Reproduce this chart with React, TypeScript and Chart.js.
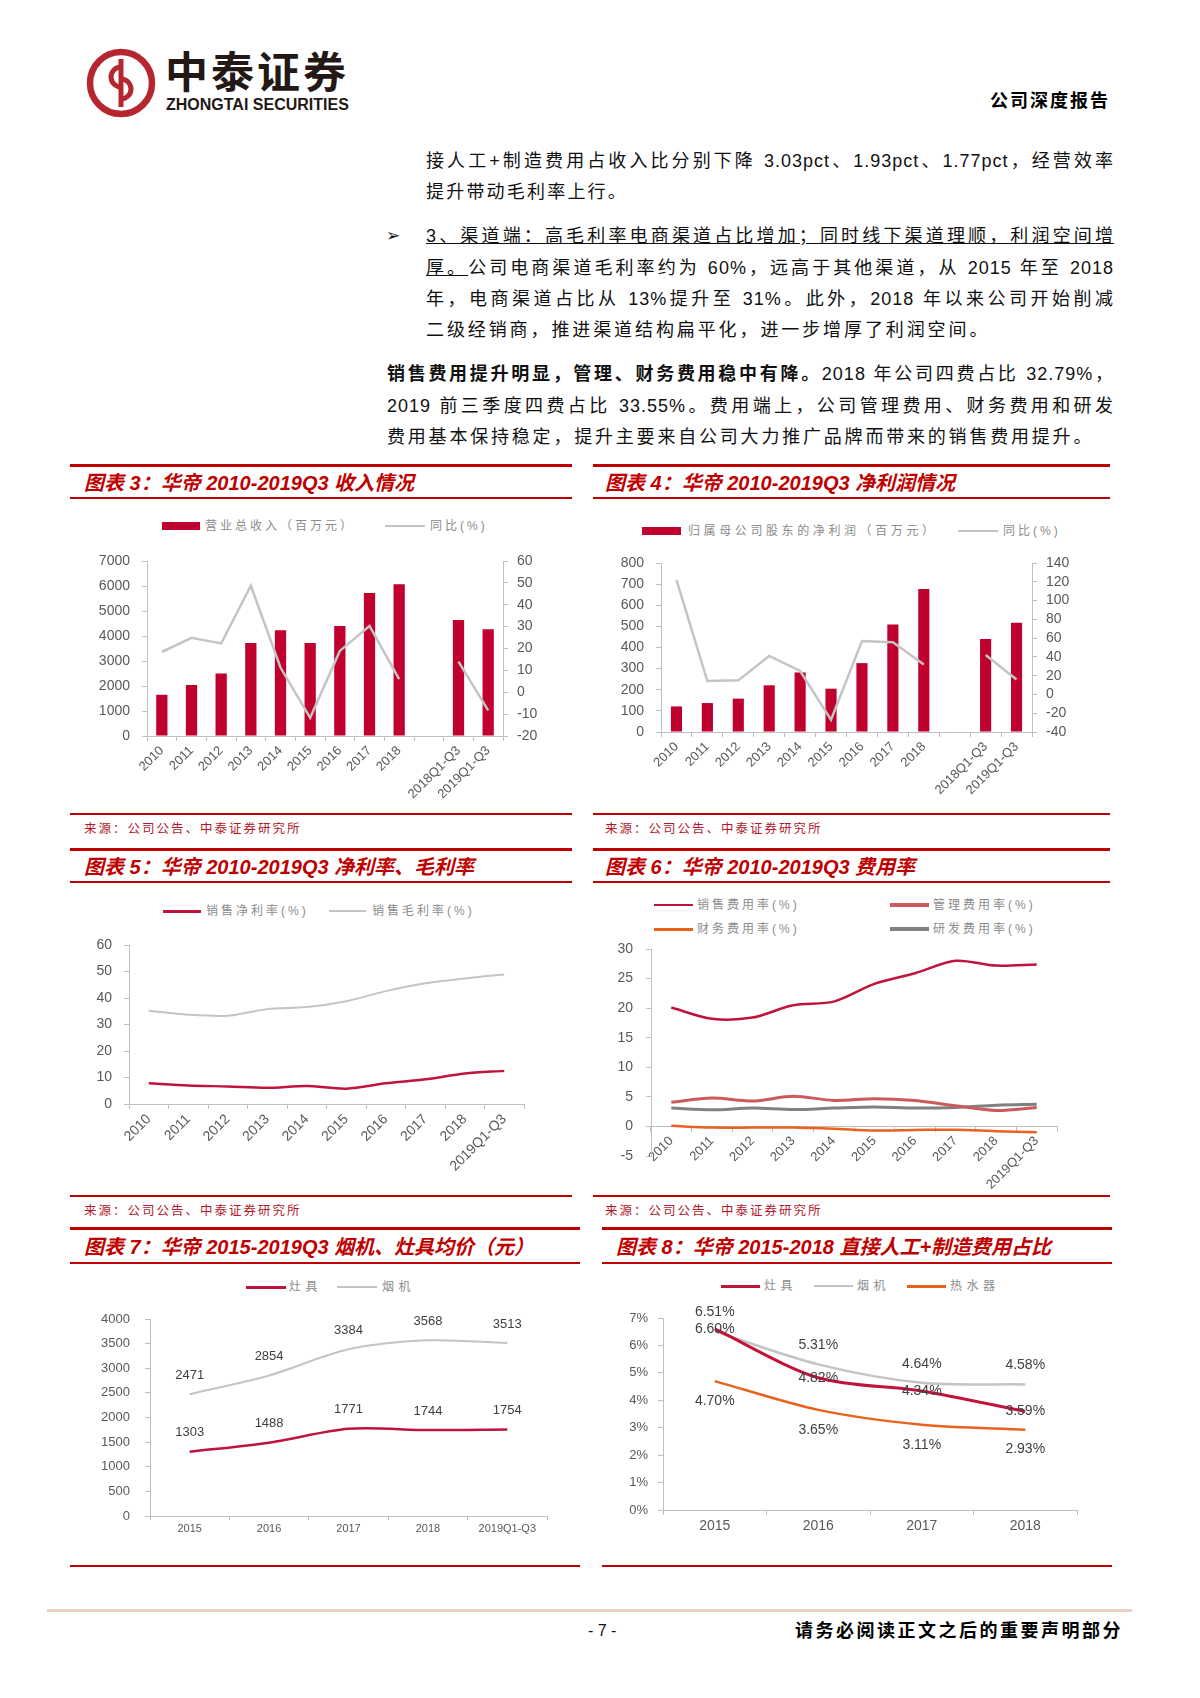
import React, { useEffect, useRef } from "react";
import { Chart, registerables } from "chart.js";

Chart.register(...registerables);

const NUM_FONT = "'Liberation Sans', Arial, sans-serif";
const CJK_FONT = "'Liberation Sans', 'Noto Sans CJK SC', sans-serif";

// ---------------- data ----------------
const revenueCategories = ["2010", "2011", "2012", "2013", "2014", "2015", "2016", "2017", "2018", "", "2018Q1-Q3", "2019Q1-Q3"];
const revenueValues = [1650, 2040, 2500, 3720, 4230, 3720, 4400, 5720, 6070, null, 4640, 4270];
const revenueYoY = [18.4, 24.9, 22.3, 48.7, 11.3, -11.7, 18.9, 30.3, 6.0, null, 14.0, -8.3];

const profitValues = [121, 137, 158, 221, 282, 205, 326, 509, 677, null, 440, 517];
const profitYoY = [122, 14.3, 15.0, 41.0, 25.0, -27.0, 57.0, 55.5, 32.0, null, 42.0, 16.0];

const marginCategories = ["2010", "2011", "2012", "2013", "2014", "2015", "2016", "2017", "2018", "2019Q1-Q3"];
const netMargin = [7.8, 7.0, 6.6, 6.1, 6.8, 5.8, 7.8, 9.3, 11.5, 12.5];
const grossMargin = [35.2, 33.7, 33.3, 35.8, 36.6, 38.8, 42.6, 45.6, 47.4, 48.9];

const sellingExpenseRate = [20.1, 18.2, 18.4, 20.5, 21.1, 24.1, 25.9, 28.0, 27.2, 27.4];
const adminExpenseRate = [4.1, 4.8, 4.3, 5.1, 4.4, 4.7, 4.4, 3.5, 2.7, 3.2];
const financeExpenseRate = [0.1, -0.2, -0.2, -0.2, -0.4, -0.7, -0.6, -0.55, -0.8, -1.0];
const rdExpenseRate = [3.1, 2.8, 3.1, 2.85, 3.1, 3.3, 3.1, 3.2, 3.6, 3.75];

const priceCategories = ["2015", "2016", "2017", "2018", "2019Q1-Q3"];
const stovePrice = [1303, 1488, 1771, 1744, 1754];
const hoodPrice = [2471, 2854, 3384, 3568, 3513];

const costCategories = ["2015", "2016", "2017", "2018"];
const stoveCostShare = [6.6, 4.82, 4.34, 3.59];
const hoodCostShare = [6.51, 5.31, 4.64, 4.58];
const heaterCostShare = [4.7, 3.65, 3.11, 2.93];

// axis ranges (tick labels)
const revenueAxis = { min: 0, max: 7000, step: 1000 };
const revenueYoYAxis = { min: -20, max: 60, step: 10 };
const profitAxis = { min: 0, max: 800, step: 100 };
const profitYoYAxis = { min: -40, max: 140, step: 20 };
const marginAxis = { min: 0, max: 60, step: 10 };
const expenseAxis = { min: -5, max: 30, step: 5 };
const priceAxis = { min: 0, max: 4000, step: 500 };
const costAxis = { min: 0, max: 7, step: 1 };

// ---------------- styles ----------------
const BAR_RED = "#c0002e";
const CRIMSON = "#c0143c";
const GRAY_LINE = "#c4c4c4";
const ADMIN_RED = "#cd5a5a";
const ORANGE = "#e8621e";
const RD_GRAY = "#808080";
const TITLE_RED = "#c00000";
const AXIS = "#bfbfbf";
const TICK_COLOR = "#595959";

const valueLabelPlugin = {
  id: "valueLabels",
  afterDatasetsDraw(chart: any) {
    const ctx = chart.ctx;
    chart.data.datasets.forEach((ds: any, i: number) => {
      const opt = ds.valueLabels;
      if (!opt) return;
      const meta = chart.getDatasetMeta(i);
      ctx.save();
      ctx.font = `${opt.size}px ${NUM_FONT}`;
      ctx.fillStyle = opt.color;
      ctx.textAlign = "center";
      ctx.textBaseline = "middle";
      meta.data.forEach((el: any, j: number) => {
        const v = ds.data[j];
        if (v === null || v === undefined) return;
        const p = el.getProps(["x", "y"], true);
        ctx.fillText(opt.format(v), p.x, p.y + opt.dy);
      });
      ctx.restore();
    });
  },
};

function xAxis(o: { size: number; rotate?: number; height?: number; pad?: number; tick?: number; position?: any }) {
  const cfg: any = {
    type: "category",
    offset: true,
    position: o.position ?? "bottom",
    grid: { offset: true, drawOnChartArea: false, drawTicks: true, tickLength: o.tick ?? 5, color: AXIS, lineWidth: 1 },
    border: { display: true, color: AXIS, width: 1 },
    ticks: {
      autoSkip: false,
      maxRotation: o.rotate ?? 0,
      minRotation: o.rotate ?? 0,
      padding: o.pad ?? 2,
      color: TICK_COLOR,
      font: { family: NUM_FONT, size: o.size },
    },
  };
  if (o.height !== undefined) cfg.afterFit = (s: any) => { s.height = o.height; };
  return cfg;
}

function yAxis(o: { min: number; max: number; step: number; width: number; size: number; pad: number; position: string; fmt?: (v: number) => string }) {
  return {
    type: "linear",
    position: o.position,
    min: o.min,
    max: o.max,
    grid: { drawOnChartArea: false, drawTicks: true, tickLength: 5, color: AXIS, lineWidth: 1 },
    border: { display: true, color: AXIS, width: 1 },
    ticks: {
      stepSize: o.step,
      autoSkip: false,
      padding: o.pad,
      color: TICK_COLOR,
      font: { family: NUM_FONT, size: o.size },
      callback: (v: any) => (o.fmt ? o.fmt(Number(v)) : String(v)),
    },
    afterFit: (s: any) => {
      s.width = o.width;
      s.paddingTop = 0;
      s.paddingBottom = 0;
    },
  };
}

function baseOptions(padding: any, scales: any) {
  return {
    responsive: true,
    maintainAspectRatio: false,
    animation: false,
    layout: { padding },
    plugins: { legend: { display: false }, tooltip: { enabled: false } },
    scales,
  };
}

function lineDs(label: string, data: any[], color: string, width: number, tension: number, extra: any = {}) {
  return { type: "line", label, data, borderColor: color, backgroundColor: color, borderWidth: width, pointRadius: 0, tension, spanGaps: false, fill: false, ...extra };
}

const revenueConfig = () => ({
  type: "bar",
  data: {
    labels: revenueCategories,
    datasets: [
      lineDs("同比(%)", revenueYoY, GRAY_LINE, 2.5, 0, { yAxisID: "yr", order: 0 }),
      { type: "bar", label: "营业总收入（百万元）", data: revenueValues, yAxisID: "y", backgroundColor: BAR_RED, barPercentage: 0.38, categoryPercentage: 1, order: 1 },
    ],
  },
  options: baseOptions({ top: 16, left: 0, right: 0, bottom: 0 }, {
    x: xAxis({ size: 13, rotate: 45, height: 79, pad: 2 }),
    y: yAxis({ ...revenueAxis, width: 67, size: 14, pad: 12, position: "left" }),
    yr: yAxis({ ...revenueYoYAxis, width: 47, size: 14, pad: 9, position: "right" }),
  }),
});

const profitConfig = () => ({
  type: "bar",
  data: {
    labels: revenueCategories,
    datasets: [
      lineDs("同比(%)", profitYoY, GRAY_LINE, 2.5, 0, { yAxisID: "yr", order: 0 }),
      { type: "bar", label: "归属母公司股东的净利润（百万元）", data: profitValues, yAxisID: "y", backgroundColor: BAR_RED, barPercentage: 0.36, categoryPercentage: 1, order: 1 },
    ],
  },
  options: baseOptions({ top: 15, left: 0, right: 0, bottom: 0 }, {
    x: xAxis({ size: 13, rotate: 45, height: 83, pad: 2 }),
    y: yAxis({ ...profitAxis, width: 66, size: 14, pad: 12, position: "left" }),
    yr: yAxis({ ...profitYoYAxis, width: 48, size: 14, pad: 9, position: "right" }),
  }),
});

const marginConfig = () => ({
  type: "line",
  data: {
    labels: marginCategories,
    datasets: [
      lineDs("销售净利率(%)", netMargin, CRIMSON, 2.5, 0.3),
      lineDs("销售毛利率(%)", grossMargin, GRAY_LINE, 2, 0.3),
    ],
  },
  options: baseOptions({ top: 15, left: 0, right: 16, bottom: 0 }, {
    x: xAxis({ size: 14, rotate: 45, height: 76, pad: 2 }),
    y: yAxis({ ...marginAxis, width: 69, size: 14, pad: 12, position: "left" }),
  }),
});

const expenseConfig = () => ({
  type: "line",
  data: {
    labels: marginCategories,
    datasets: [
      lineDs("销售费用率(%)", sellingExpenseRate, CRIMSON, 2.5, 0.3),
      lineDs("管理费用率(%)", adminExpenseRate, ADMIN_RED, 3, 0.3),
      lineDs("财务费用率(%)", financeExpenseRate, ORANGE, 2.5, 0.3),
      lineDs("研发费用率(%)", rdExpenseRate, RD_GRAY, 3, 0.3),
    ],
  },
  options: baseOptions({ top: 14, left: 0, right: 13, bottom: 39 }, {
    x: xAxis({ size: 13, rotate: 45, pad: 2, position: { y: 0 } }),
    y: yAxis({ ...expenseAxis, width: 51, size: 14, pad: 13, position: "left" }),
  }),
});

const priceConfig = () => ({
  type: "line",
  data: {
    labels: priceCategories,
    datasets: [
      lineDs("灶具", stovePrice, CRIMSON, 2.5, 0.3, { valueLabels: { size: 13, color: "#404040", dy: -19, format: (v: number) => String(v) } }),
      lineDs("烟机", hoodPrice, GRAY_LINE, 2, 0.3, { valueLabels: { size: 13, color: "#404040", dy: -19, format: (v: number) => String(v) } }),
    ],
  },
  options: baseOptions({ top: 19, left: 0, right: 13, bottom: 0 }, {
    x: xAxis({ size: 11, height: 24, pad: 2, tick: 4 }),
    y: yAxis({ ...priceAxis, width: 80, size: 13, pad: 15, position: "left" }),
  }),
  plugins: [valueLabelPlugin],
});

const costConfig = () => ({
  type: "line",
  data: {
    labels: costCategories,
    datasets: [
      lineDs("灶具", stoveCostShare, CRIMSON, 3, 0.3, { valueLabels: { size: 14, color: "#404040", dy: 0, format: (v: number) => v.toFixed(2) + "%" } }),
      lineDs("烟机", hoodCostShare, GRAY_LINE, 2.5, 0.3, { valueLabels: { size: 14, color: "#404040", dy: -19, format: (v: number) => v.toFixed(2) + "%" } }),
      lineDs("热水器", heaterCostShare, ORANGE, 2.5, 0.3, { valueLabels: { size: 14, color: "#404040", dy: 20, format: (v: number) => v.toFixed(2) + "%" } }),
    ],
  },
  options: baseOptions({ top: 18, left: 0, right: 13, bottom: 0 }, {
    x: xAxis({ size: 14, height: 35, pad: 3 }),
    y: yAxis({ ...costAxis, width: 63, size: 13, pad: 10, position: "left", fmt: (v: number) => v + "%" }),
  }),
  plugins: [valueLabelPlugin],
});

// ---------------- components ----------------
function ChartPanel({ left, top, width, height, config }: { left: number; top: number; width: number; height: number; config: () => any }) {
  const ref = useRef<HTMLCanvasElement | null>(null);
  useEffect(() => {
    if (!ref.current) return;
    const chart = new Chart(ref.current, config());
    return () => chart.destroy();
  }, []);
  return (
    <div style={{ position: "absolute", left, top, width, height }}>
      <canvas ref={ref} />
    </div>
  );
}

function Rule({ x, y, w, h, color = TITLE_RED }: { x: number; y: number; w: number; h: number; color?: string }) {
  return <div style={{ position: "absolute", left: x, top: y - h / 2, width: w, height: h, background: color }} />;
}

function Text({ x, y, size, children, style = {} }: { x: number; y: number; size: number; children: any; style?: any }) {
  return (
    <div style={{ position: "absolute", left: x, top: y - size * 0.7, height: size * 1.4, lineHeight: `${size * 1.4}px`, fontSize: size, fontFamily: CJK_FONT, whiteSpace: "nowrap", ...style }}>
      {children}
    </div>
  );
}

function Title({ x, y, children }: { x: number; y: number; children: any }) {
  return (
    <Text x={x} y={y} size={20} style={{ color: TITLE_RED, fontWeight: 700, fontStyle: "italic" }}>
      {children}
    </Text>
  );
}

function Source({ x, y }: { x: number; y: number }) {
  return (
    <Text x={x} y={y} size={12.5} style={{ color: "#b2182b", letterSpacing: 2 }}>
      来源：公司公告、中泰证券研究所
    </Text>
  );
}

function Legend({ x, y, w, h, color, tx, text, ls = 3 }: { x: number; y: number; w: number; h: number; color: string; tx: number; text: string; ls?: number }) {
  return (
    <>
      <div style={{ position: "absolute", left: x, top: y - h / 2, width: w, height: h, background: color }} />
      <Text x={tx} y={y} size={12} style={{ color: "#8c8c8c", letterSpacing: ls }}>
        {text}
      </Text>
    </>
  );
}

function ParaLine({ x, y, w, justify, ls = 1, children }: { x: number; y: number; w: number; justify: boolean; ls?: number; children: any }) {
  return (
    <div
      style={{
        position: "absolute",
        left: x,
        top: y - 13,
        width: w,
        height: 26,
        lineHeight: "26px",
        fontSize: 18,
        fontFamily: CJK_FONT,
        color: "#111",
        letterSpacing: ls,
        textAlign: justify ? "justify" : "left",
        textAlignLast: justify ? "justify" : "left",
        overflow: "visible",
      } as any}
    >
      {children}
    </div>
  );
}

export default function App() {
  return (
    <div style={{ position: "absolute", left: 0, top: 0, width: 1200, height: 1698, background: "#fff", overflow: "hidden" }}>
      {/* logo */}
      <svg style={{ position: "absolute", left: 84, top: 46 }} width="74" height="74" viewBox="0 0 74 74">
        <circle cx="37" cy="37" r="31" fill="none" stroke="#b5262e" strokeWidth="6.5" />
        <path d="M37 13 V61" stroke="#b5262e" strokeWidth="5" />
        <path d="M37 21 A10 10 0 1 0 37 41" fill="none" stroke="#b5262e" strokeWidth="5" />
        <path d="M37 33 A10 10 0 1 1 37 53" fill="none" stroke="#b5262e" strokeWidth="5" />
      </svg>
      <Text x={165} y={73} size={43} style={{ fontWeight: 700, color: "#231815", letterSpacing: 3 }}>中泰证券</Text>
      <Text x={166} y={105} size={16} style={{ fontWeight: 700, color: "#231815", fontFamily: NUM_FONT }}>ZHONGTAI SECURITIES</Text>
      <div style={{ position: "absolute", left: 960, top: 88, width: 150, height: 26, lineHeight: "26px", textAlign: "right", fontSize: 18, fontWeight: 700, letterSpacing: 2, fontFamily: CJK_FONT, color: "#000" }}>公司深度报告</div>

      {/* text */}
      <ParaLine x={426} y={161} w={688} justify>接人工+制造费用占收入比分别下降 3.03pct、1.93pct、1.77pct，经营效率</ParaLine>
      <ParaLine x={426} y={192} w={688} justify={false} ls={2.2}>提升带动毛利率上行。</ParaLine>
      <Text x={386} y={236} size={17} style={{ fontFamily: "'DejaVu Sans', sans-serif", color: "#111" }}>➢</Text>
      <ParaLine x={426} y={236} w={688} justify><span style={{ textDecoration: "underline" }}>3、渠道端：高毛利率电商渠道占比增加；同时线下渠道理顺，利润空间增</span></ParaLine>
      <ParaLine x={426} y={268} w={688} justify><span style={{ textDecoration: "underline" }}>厚。</span>公司电商渠道毛利率约为 60%，远高于其他渠道，从 2015 年至 2018</ParaLine>
      <ParaLine x={426} y={299} w={688} justify>年，电商渠道占比从 13%提升至 31%。此外，2018 年以来公司开始削减</ParaLine>
      <ParaLine x={426} y={330} w={688} justify={false} ls={2.9}>二级经销商，推进渠道结构扁平化，进一步增厚了利润空间。</ParaLine>
      <ParaLine x={387} y={374} w={727} justify><b>销售费用提升明显，管理、财务费用稳中有降。</b>2018 年公司四费占比 32.79%，</ParaLine>
      <ParaLine x={387} y={406} w={727} justify>2019 前三季度四费占比 33.55%。费用端上，公司管理费用、财务费用和研发</ParaLine>
      <ParaLine x={387} y={437} w={727} justify={false} ls={2.8}>费用基本保持稳定，提升主要来自公司大力推广品牌而带来的销售费用提升。</ParaLine>

      {/* panel rules */}
      <Rule x={70} y={465} w={502} h={3} />
      <Rule x={593} y={465} w={517} h={3} />
      <Rule x={70} y={498} w={502} h={1.5} />
      <Rule x={593} y={498} w={517} h={1.5} />
      <Rule x={70} y={814} w={502} h={1.5} />
      <Rule x={593} y={814} w={517} h={1.5} />
      <Rule x={70} y={849} w={502} h={3} />
      <Rule x={593} y={849} w={517} h={3} />
      <Rule x={70} y={882} w={502} h={1.5} />
      <Rule x={593} y={882} w={517} h={1.5} />
      <Rule x={70} y={1196} w={502} h={1.5} />
      <Rule x={593} y={1196} w={517} h={1.5} />
      <Rule x={70} y={1228} w={510} h={3} />
      <Rule x={602} y={1228} w={510} h={3} />
      <Rule x={70} y={1263} w={510} h={1.5} />
      <Rule x={602} y={1263} w={510} h={1.5} />
      <Rule x={70} y={1566} w={510} h={1.5} />
      <Rule x={602} y={1566} w={510} h={1.5} />

      {/* titles */}
      <Title x={84} y={483}>图表 3：华帝 2010-2019Q3 收入情况</Title>
      <Title x={605} y={483}>图表 4：华帝 2010-2019Q3 净利润情况</Title>
      <Title x={84} y={867}>图表 5：华帝 2010-2019Q3 净利率、毛利率</Title>
      <Title x={605} y={867}>图表 6：华帝 2010-2019Q3 费用率</Title>
      <Title x={84} y={1247}>图表 7：华帝 2015-2019Q3 烟机、灶具均价（元）</Title>
      <Title x={616} y={1247}>图表 8：华帝 2015-2018 直接人工+制造费用占比</Title>

      {/* sources */}
      <Source x={84} y={830} />
      <Source x={605} y={830} />
      <Source x={84} y={1212} />
      <Source x={605} y={1212} />

      {/* legends */}
      <Legend x={162} y={526} w={38} h={8} color={BAR_RED} tx={205} text="营业总收入（百万元）" />
      <Legend x={385} y={526} w={40} h={2.5} color={GRAY_LINE} tx={430} text="同比(%)" />
      <Legend x={642} y={531} w={39} h={8} color={BAR_RED} tx={688} text="归属母公司股东的净利润（百万元）" ls={3.6} />
      <Legend x={958} y={531} w={40} h={2.5} color={GRAY_LINE} tx={1003} text="同比(%)" />
      <Legend x={163} y={911} w={38} h={3} color={CRIMSON} tx={206} text="销售净利率(%)" />
      <Legend x={329} y={911} w={37} h={2} color={GRAY_LINE} tx={372} text="销售毛利率(%)" />
      <Legend x={654} y={905} w={39} h={2.5} color={CRIMSON} tx={697} text="销售费用率(%)" />
      <Legend x={890} y={905} w={39} h={3.5} color={ADMIN_RED} tx={933} text="管理费用率(%)" />
      <Legend x={654} y={929} w={39} h={3} color={ORANGE} tx={697} text="财务费用率(%)" />
      <Legend x={890} y={929} w={39} h={3.5} color={RD_GRAY} tx={933} text="研发费用率(%)" />
      <Legend x={246} y={1287} w={40} h={3} color={CRIMSON} tx={289} text="灶具" ls={4.5} />
      <Legend x={337} y={1287} w={40} h={2} color={GRAY_LINE} tx={382} text="烟机" ls={4.5} />
      <Legend x={721} y={1286} w={39} h={3} color={CRIMSON} tx={764} text="灶具" ls={4.5} />
      <Legend x={814} y={1286} w={39} h={2.5} color={GRAY_LINE} tx={857} text="烟机" ls={4.5} />
      <Legend x={907} y={1286} w={39} h={3} color={ORANGE} tx={950} text="热水器" ls={4.5} />

      {/* charts */}
      <ChartPanel left={80} top={545} width={470} height={270} config={revenueConfig} />
      <ChartPanel left={595} top={548} width={485} height={267} config={profitConfig} />
      <ChartPanel left={60} top={930} width={480} height={250} config={marginConfig} />
      <ChartPanel left={600} top={935} width={470} height={260} config={expenseConfig} />
      <ChartPanel left={70} top={1300} width={490} height={240} config={priceConfig} />
      <ChartPanel left={600} top={1300} width={490} height={245} config={costConfig} />

      {/* footer */}
      <Rule x={47} y={1610} w={1085} h={3} color="#e8d0c2" />
      <Text x={588} y={1631} size={16} style={{ fontFamily: NUM_FONT, color: "#111" }}>- 7 -</Text>
      <div style={{ position: "absolute", left: 760, top: 1618, width: 363, height: 26, lineHeight: "26px", textAlign: "right", fontSize: 18, fontWeight: 700, letterSpacing: 2.5, fontFamily: CJK_FONT, color: "#000" }}>请务必阅读正文之后的重要声明部分</div>
    </div>
  );
}
